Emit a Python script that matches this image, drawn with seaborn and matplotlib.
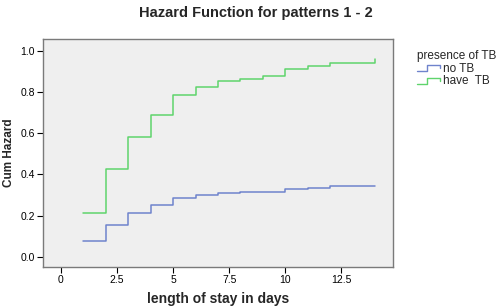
import pandas as pd
import seaborn as sns
import matplotlib.pyplot as plt
from matplotlib.lines import Line2D
from matplotlib.legend_handler import HandlerLine2D

# values (step function, one value per day)
days = [1, 2, 3, 4, 5, 6, 7, 8, 9, 10, 11, 12, 13, 14]
no_tb = [0.078, 0.154, 0.211, 0.251, 0.285, 0.301, 0.309, 0.313, 0.315,
         0.329, 0.333, 0.342, 0.342, 0.345]
have_tb = [0.212, 0.424, 0.580, 0.690, 0.786, 0.824, 0.853, 0.864, 0.875,
           0.911, 0.926, 0.942, 0.942, 0.958]
groups = ['no TB', 'have  TB']
x_ticks = [0, 2.5, 5, 7.5, 10, 12.5]
x_tick_labels = ['0', '2.5', '5', '7.5', '10', '12.5']
y_ticks = [0.0, 0.2, 0.4, 0.6, 0.8, 1.0]

df = pd.DataFrame({
    'days': days * 2,
    'hazard': no_tb + have_tb,
    'group': [groups[0]] * len(days) + [groups[1]] * len(days),
})


# little step-shaped legend key, like the SPSS one
class StepHandler(HandlerLine2D):
    def create_artists(self, legend, orig_handle, xdescent, ydescent,
                       width, height, fontsize, trans):
        xs = [0, width * 0.45, width * 0.45, width, width]
        ys = [height * 0.1, height * 0.1, height * 0.8, height * 0.8, height * 0.45]
        ln = Line2D([x - xdescent for x in xs], [y - ydescent for y in ys],
                    color=orig_handle.get_color(), linewidth=1.0)
        ln.set_transform(trans)
        return [ln]


sns.set_style('white')
plt.rcParams['font.family'] = ['Liberation Sans', 'DejaVu Sans']

fig = plt.figure(figsize=(5, 3.08), dpi=100)
ax = fig.add_axes([43 / 500, 1 - 267 / 308, 350 / 500, 228 / 308])
ax.set_facecolor('#efefef')

palette = {groups[0]: '#6f83cc', groups[1]: '#5fd46c'}
sns.lineplot(data=df, x='days', y='hazard', hue='group', palette=palette,
             estimator=None, drawstyle='steps-post', linewidth=1.1, ax=ax)

ax.set_xlim(-0.8, 14.8)
ax.set_ylim(-0.05, 1.057)
ax.set_xticks(x_ticks)
ax.set_xticklabels(x_tick_labels)
ax.set_yticks(y_ticks)
ax.set_yticklabels([f'{v:.1f}' for v in y_ticks])
ax.tick_params(axis='both', direction='out', length=4, width=0.8,
               labelsize=7.5, colors='black', bottom=True, left=True, pad=2)

for s in ax.spines.values():
    s.set_color('#7a7a7a')
    s.set_linewidth(1.0)

ax.set_xlabel('length of stay in days', fontsize=10, fontweight='bold', labelpad=5)
ax.set_ylabel('Cum Hazard', fontsize=8.5, fontweight='bold', labelpad=4)
fig.text(256 / 500, 1 - 13 / 308, 'Hazard Function for patterns 1 - 2',
         ha='center', va='center', fontsize=10.5, fontweight='bold')

handles, labels = ax.get_legend_handles_labels()
leg = ax.legend(handles, labels, title='presence of TB', loc='upper left',
                bbox_to_anchor=(1.052, 0.977), frameon=False, fontsize=8.5,
                title_fontsize=8.5, handlelength=1.9, handleheight=0.8,
                handletextpad=0.3, labelspacing=0.05, borderpad=0.0,
                handler_map={Line2D: StepHandler()})
leg._legend_box.align = 'left'

fig.savefig('out.png', dpi=100)
